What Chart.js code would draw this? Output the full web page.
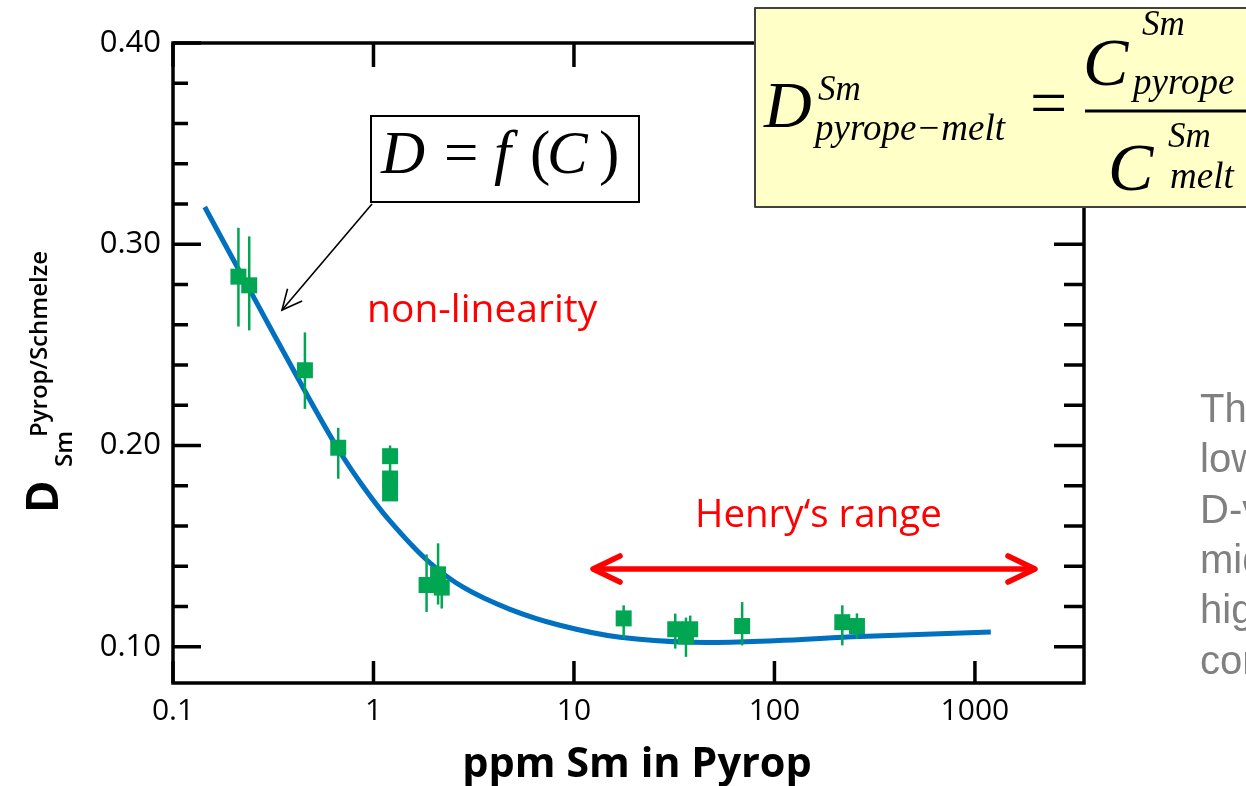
<!DOCTYPE html>
<html>
<head>
<meta charset="utf-8">
<script src="https://cdn.jsdelivr.net/npm/chart.js@4/dist/chart.umd.min.js"></script>
<style>
  html, body { margin: 0; padding: 0; background: #fff; }
  #wrap { width: 1246px; height: 786px; }
</style>
</head>
<body>
<div id="wrap"><canvas id="smChart" width="1246" height="786"></canvas></div>
<script>
// Measured Sm partition data (pyrope / melt)
const ppmSm = [0.212, 0.240, 0.455, 0.667, 1.21, 1.21, 1.21, 1.84, 2.10, 2.19,
               17.7, 32.0, 38.0, 36.2, 69.0, 218, 258];
const dSm   = [0.2839, 0.2796, 0.2374, 0.1989, 0.1947, 0.1836, 0.1762, 0.1307, 0.1360, 0.1294,
               0.1141, 0.1087, 0.1087, 0.1051, 0.1103, 0.1122, 0.1103];
const dLow  = [0.2591, 0.2572, 0.2182, 0.1835, 0.1870, 0.1800, 0.1730, 0.1173, 0.1210, 0.1190,
               0.1045, 0.0991, 0.1040, 0.0950, 0.1007, 0.1007, 0.1040];
const dHigh = [0.3082, 0.3039, 0.2562, 0.2088, 0.2000, 0.1870, 0.1800, 0.1459, 0.1514, 0.1350,
               0.1206, 0.1165, 0.1155, 0.1145, 0.1222, 0.1206, 0.1166];

// Fitted D = f(C) curve
const fitPpm = [0.144, 0.231, 0.455, 0.665, 0.886, 1.21, 1.85, 2.80, 4.80, 8.5, 17.0, 39.2, 100, 267, 1200];
const fitD   = [0.3185, 0.2808, 0.2271, 0.1984, 0.1798, 0.1624, 0.1430, 0.1296, 0.1186, 0.1107, 0.1047, 0.1022, 0.1030, 0.1051, 0.1073];

// Axis ticks
const xTicks = [0.1, 1, 10, 100, 1000];
const xTickLabels = ['0.1', '1', '10', '100', '1000'];
const yTicks = [0.10, 0.20, 0.30, 0.40];
const yTickLabels = ['0.10', '0.20', '0.30', '0.40'];
const yMinor = [0.12, 0.14, 0.16, 0.18, 0.22, 0.24, 0.26, 0.28, 0.32, 0.34, 0.36, 0.38];

const GREEN = '#00a651';
const BLUE = '#0070c0';
const RED = '#ff0000';

function txt(ctx, s, x, y, font, color, align) {
  ctx.font = font;
  ctx.fillStyle = color || '#000';
  ctx.textAlign = align || 'left';
  ctx.textBaseline = 'alphabetic';
  ctx.fillText(s, x, y);
}

function arrowHead(ctx, tipX, tipY, fromX, fromY, len, spread) {
  const a = Math.atan2(fromY - tipY, fromX - tipX);
  ctx.beginPath();
  ctx.moveTo(tipX + len * Math.cos(a - spread), tipY + len * Math.sin(a - spread));
  ctx.lineTo(tipX, tipY);
  ctx.lineTo(tipX + len * Math.cos(a + spread), tipY + len * Math.sin(a + spread));
  ctx.stroke();
}

function drawErrorBars(chart) {
  const ctx = chart.ctx;
  const xs = chart.scales.x, ys = chart.scales.y;
  ctx.save();
  ctx.strokeStyle = GREEN;
  ctx.lineWidth = 2.5;
  for (let i = 0; i < ppmSm.length; i++) {
    const px = xs.getPixelForValue(ppmSm[i]);
    ctx.beginPath();
    ctx.moveTo(px, ys.getPixelForValue(dLow[i]));
    ctx.lineTo(px, ys.getPixelForValue(dHigh[i]));
    ctx.stroke();
  }
  ctx.restore();
}

function drawFrame(chart) {
  const ctx = chart.ctx;
  const a = chart.chartArea;
  const xs = chart.scales.x, ys = chart.scales.y;
  ctx.save();
  ctx.strokeStyle = '#000';
  ctx.lineWidth = 3.5;
  ctx.strokeRect(a.left, a.top, a.right - a.left, a.bottom - a.top);
  ctx.beginPath();
  yTicks.forEach(v => {
    const py = ys.getPixelForValue(v);
    ctx.moveTo(a.left, py); ctx.lineTo(a.left + 28, py);
    ctx.moveTo(a.right, py); ctx.lineTo(a.right - 30, py);
  });
  yMinor.forEach(v => {
    const py = ys.getPixelForValue(v);
    ctx.moveTo(a.left, py); ctx.lineTo(a.left + 15, py);
    ctx.moveTo(a.right, py); ctx.lineTo(a.right - 20, py);
  });
  xTicks.forEach(v => {
    const px = xs.getPixelForValue(v);
    ctx.moveTo(px, a.bottom); ctx.lineTo(px, a.bottom - 22);
    ctx.moveTo(px, a.top); ctx.lineTo(px, a.top + 24);
  });
  ctx.stroke();
  ctx.restore();
}

function drawTitles(chart) {
  const ctx = chart.ctx;
  ctx.save();
  txt(ctx, 'ppm Sm in Pyrop', 637, 777, 'bold 41.5px "Open Sans"', '#000', 'center');
  // rotated y title: D with superscript and subscript
  ctx.translate(0, 513);
  ctx.rotate(-Math.PI / 2);
  txt(ctx, 'D', 0, 58, 'bold 44px "Open Sans"', '#000');
  txt(ctx, 'Sm', 46, 72, '600 24px "Open Sans"', '#000');
  txt(ctx, 'Pyrop/Schmelze', 76, 47, '600 24px "Open Sans"', '#000');
  ctx.restore();
}

function drawNotes(chart) {
  const ctx = chart.ctx;
  ctx.save();

  // D = f(C) label with pointer
  ctx.strokeStyle = '#000';
  ctx.lineWidth = 2;
  ctx.strokeRect(371, 116, 268, 86);
  const it = 'italic 61px "Liberation Serif"', up = '61px "Liberation Serif"';
  txt(ctx, 'D', 381, 173, it);
  txt(ctx, '=', 444, 173, up);
  txt(ctx, 'f', 494, 173, it);
  txt(ctx, '(', 530, 173, up);
  txt(ctx, 'C', 547, 173, it);
  txt(ctx, ')', 599, 173, up);
  ctx.lineWidth = 1.6;
  ctx.beginPath();
  ctx.moveTo(372, 204); ctx.lineTo(282, 310);
  ctx.stroke();
  arrowHead(ctx, 282, 310, 372, 204, 22, 0.45);

  txt(ctx, 'non-linearity', 367, 322, '39px "Open Sans"', RED);
  txt(ctx, 'Henry\u2018s range', 695, 527, '38.5px "Open Sans"', RED);

  // Henry's range double arrow
  ctx.strokeStyle = RED;
  ctx.lineWidth = 5.5;
  ctx.lineCap = 'round';
  ctx.lineJoin = 'round';
  ctx.beginPath();
  ctx.moveTo(596, 569); ctx.lineTo(1032, 569);
  ctx.stroke();
  arrowHead(ctx, 593, 569, 700, 569, 30, 0.45);
  arrowHead(ctx, 1035, 569, 900, 569, 30, 0.45);

  // definition box
  ctx.fillStyle = '#ffffc8';
  ctx.fillRect(755, 8, 520, 199);
  ctx.strokeStyle = '#404040';
  ctx.lineWidth = 2;
  ctx.lineCap = 'butt';
  ctx.strokeRect(755, 8, 520, 199);
  const fi = s => 'italic ' + s + 'px "Liberation Serif"';
  txt(ctx, 'D', 764, 127, fi(66));
  txt(ctx, 'Sm', 818, 100, fi(35));
  txt(ctx, 'pyrope\u2212melt', 815, 140, fi(37));
  txt(ctx, '=', 1030, 125, '66px "Liberation Serif"');
  ctx.strokeStyle = '#000';
  ctx.lineWidth = 3;
  ctx.beginPath();
  ctx.moveTo(1085, 111); ctx.lineTo(1250, 111);
  ctx.stroke();
  txt(ctx, 'C', 1083, 85, fi(68));
  txt(ctx, 'Sm', 1142, 35, fi(35));
  txt(ctx, 'pyrope', 1133, 94, fi(37));
  txt(ctx, 'C', 1108, 190, fi(68));
  txt(ctx, 'Sm', 1168, 147, fi(35));
  txt(ctx, 'melt', 1170, 188, fi(37));

  // side text, runs off the right edge
  const grey = '#808080', gf = '40px "Liberation Sans"';
  ['The', 'low', 'D-v', 'mid', 'high', 'con'].forEach((w, i) => {
    txt(ctx, w, 1200, 422 + i * 50.3, gf, grey);
  });
  ctx.restore();
}

const overlay = {
  id: 'overlay',
  afterDatasetDraw(chart, args) {
    if (args.index === 1) drawErrorBars(chart);
  },
  afterDraw(chart) {
    drawFrame(chart);
    drawTitles(chart);
    drawNotes(chart);
  }
};

const ctx = document.getElementById('smChart').getContext('2d');
const smChart = new Chart(ctx, {
  type: 'scatter',
  data: {
    datasets: [{
      type: 'scatter',
      label: 'measured',
      data: ppmSm.map((x, i) => ({ x: x, y: dSm[i] })),
      pointStyle: 'rect',
      pointRadius: 11.3,
      backgroundColor: GREEN,
      borderWidth: 0,
      order: 0
    }, {
      type: 'line',
      label: 'fit',
      data: fitPpm.map((x, i) => ({ x: x, y: fitD[i] })),
      borderColor: BLUE,
      borderWidth: 5,
      pointRadius: 0,
      tension: 0.35,
      fill: false,
      order: 1
    }]
  },
  options: {
    responsive: false,
    animation: false,
    devicePixelRatio: 1,
    layout: { padding: { left: 0, top: 43, right: 162, bottom: 0 } },
    plugins: { legend: { display: false }, tooltip: { enabled: false } },
    scales: {
      x: {
        type: 'logarithmic',
        min: 0.1,
        max: 3500,
        afterBuildTicks: s => { s.ticks = xTicks.map(v => ({ value: v })); },
        afterFit: s => { s.height = 103; },
        ticks: {
          callback: (v, i) => xTickLabels[i],
          font: { family: 'Open Sans', size: 30 },
          color: '#000',
          padding: 10,
          maxRotation: 0,
          autoSkip: false
        },
        grid: { display: false, drawTicks: false },
        border: { display: false }
      },
      y: {
        type: 'linear',
        min: 0.082,
        max: 0.40,
        afterBuildTicks: s => { s.ticks = yTicks.map(v => ({ value: v })); },
        afterFit: s => { s.width = 173; },
        ticks: {
          callback: (v, i) => yTickLabels[i],
          font: { family: 'Open Sans', size: 31 },
          color: '#000',
          padding: 12,
          autoSkip: false
        },
        grid: { display: false, drawTicks: false },
        border: { display: false }
      }
    }
  },
  plugins: [overlay]
});
</script>
</body>
</html>
